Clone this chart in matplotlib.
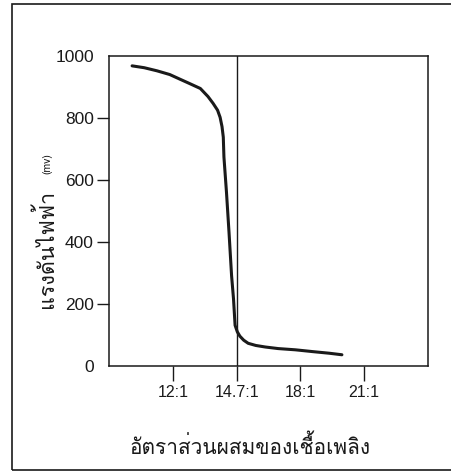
import numpy as np
import matplotlib
matplotlib.use("Agg")
import matplotlib.pyplot as plt
from matplotlib import font_manager
from matplotlib.ft2font import FT2Font
from matplotlib.patches import Rectangle

# pick an installed font that has Thai glyphs
thai_font = None
for f in font_manager.fontManager.ttflist:
    try:
        if 0x0E2D in FT2Font(f.fname).get_charmap():
            thai_font = f.name
            break
    except Exception:
        pass
families = ([thai_font] if thai_font else []) + ['Liberation Sans', 'DejaVu Sans']

# x positions are the evenly spaced tick slots on the original chart
tick_pos = [1, 2, 3, 4]
tick_labels = ['12:1', '14.7:1', '18:1', '21:1']
stoich_pos = 2

# sensor voltage (mV)
curve_x = [0.36, 0.55, 0.75, 0.95, 1.11, 1.25, 1.43, 1.55, 1.63, 1.70, 1.74, 1.77,
           1.79, 1.80, 1.84, 1.88, 1.92, 1.95, 1.975, 2.01, 2.05, 2.11, 2.18, 2.30,
           2.45, 2.65, 2.92, 3.2, 3.45, 3.65]
curve_y = [968, 962, 952, 940, 925, 912, 895, 869, 847, 825, 802, 772,
           738, 674, 560, 430, 291, 217, 131, 110, 96, 83, 73, 66,
           61, 56, 52, 46, 41, 36]

yticks = [0, 200, 400, 600, 800, 1000]

ink = '#1a1a1a'
fig = plt.figure(figsize=(4.51, 4.74), dpi=100)
ax = fig.add_axes([0.242, 0.228, 0.707, 0.654])

ax.plot(curve_x, curve_y, color=ink, linewidth=2.2, solid_capstyle='round', solid_joinstyle='round')
ax.axvline(stoich_pos, color=ink, linewidth=1)

ax.set_xlim(0, 5)
ax.set_ylim(0, 1000)
ax.set_xticks(tick_pos)
ax.set_xticklabels(tick_labels, fontsize=11.5, family='Liberation Sans', color=ink)
ax.set_yticks(yticks)
ax.set_yticklabels([str(v) for v in yticks], fontsize=12.5, family='Liberation Sans', color=ink)
ax.tick_params(axis='both', direction='out', length=9, width=1, color=ink, pad=2)
ax.tick_params(axis='x', length=11, pad=3)
for t in (ax.yaxis.get_major_ticks()[0], ax.yaxis.get_major_ticks()[-1]):
    t.tick1line.set_visible(False)
for s in ax.spines.values():
    s.set_linewidth(1.1)
    s.set_color(ink)

ax.set_xlabel('อัตราส่วนผสมของเชื้อเพลิง', fontsize=15, family=families, color=ink)
ax.xaxis.set_label_coords(0.442, -0.222)
fig.text(0.102, 0.475, 'แรงดันไฟฟ้า', rotation=90, ha='center', va='center',
         fontsize=15.5, family=families, color=ink)
fig.text(0.104, 0.655, '(mv)', rotation=90, ha='center', va='center',
         fontsize=7.5, family=families, color=ink)

# outer frame of the scanned figure
fig.patches.append(Rectangle((12 / 451, 4 / 474), 1.1, 466 / 474, transform=fig.transFigure,
                             fill=False, edgecolor=ink, linewidth=1.2))

fig.savefig('out.png', dpi=100)
